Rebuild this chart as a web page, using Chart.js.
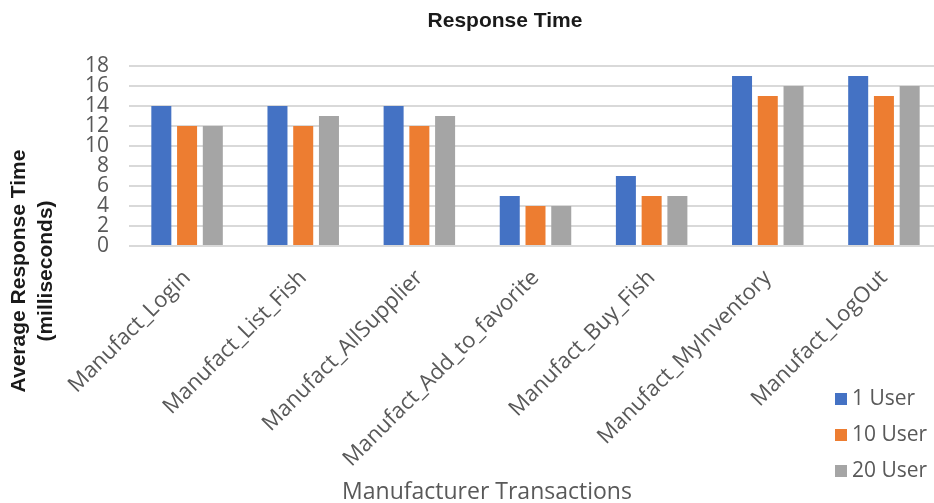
<!DOCTYPE html>
<html>
<head>
<meta charset="utf-8">
<title>Response Time</title>
<script src="https://cdn.jsdelivr.net/npm/chart.js@4.4.1/dist/chart.umd.min.js"></script>
<style>
  html, body { margin: 0; padding: 0; background: #ffffff; overflow: hidden; }
  #wrap { position: relative; width: 942px; height: 503px; }
</style>
</head>
<body>
<div id="wrap"><canvas id="c" width="942" height="503"></canvas></div>
<script>
// Transactions measured, and average response time (ms) for each load level
const categories = [
  'Manufact_Login',
  'Manufact_List_Fish',
  'Manufact_AllSupplier',
  'Manufact_Add_to_favorite',
  'Manufact_Buy_Fish',
  'Manufact_MyInventory',
  'Manufact_LogOut'
];
const seriesNames = ['1 User', '10 User', '20 User'];
const oneUser     = [14, 14, 14, 5, 7, 17, 17];
const tenUsers    = [12, 12, 12, 4, 5, 15, 15];
const twentyUsers = [12, 13, 13, 4, 5, 16, 16];
const yTicks = [0, 2, 4, 6, 8, 10, 12, 14, 16, 18];

const chartTitle = 'Response Time';
const yTitleLines = ['Average Response Time', '(milliseconds)'];
const xTitle = 'Manufacturer Transactions';

const seriesColors = ['#4472C4', '#ED7D31', '#A5A5A5'];
const textGray = '#595959';
const xTickFont = { family: 'Open Sans', size: 22 };
const yTickFont = { family: 'Open Sans', size: 21 };

// Title, axis titles and the legend box are painted after the chart itself
const decorations = {
  id: 'decorations',
  afterDraw(chart) {
    const ctx = chart.ctx;
    ctx.save();

    // chart title
    ctx.fillStyle = '#1a1a1a';
    ctx.font = 'bold 21px "Liberation Sans", Arial, sans-serif';
    ctx.textAlign = 'center';
    ctx.textBaseline = 'alphabetic';
    ctx.fillText(chartTitle, 505, 27);

    // y axis title, two rotated lines
    ctx.save();
    ctx.translate(0, 271);
    ctx.rotate(-Math.PI / 2);
    ctx.textBaseline = 'middle';
    ctx.fillText(yTitleLines[0], 0, 19);
    ctx.fillText(yTitleLines[1], 0, 46);
    ctx.restore();

    // x axis title
    ctx.fillStyle = textGray;
    ctx.font = '23px "Open Sans", sans-serif';
    ctx.textAlign = 'center';
    ctx.textBaseline = 'alphabetic';
    ctx.fillText(xTitle, 487, 499);

    // legend
    ctx.font = '21px "Open Sans", sans-serif';
    ctx.textAlign = 'left';
    ctx.textBaseline = 'middle';
    chart.data.datasets.forEach((ds, i) => {
      const cy = 399 + i * 36;
      ctx.fillStyle = ds.backgroundColor;
      ctx.fillRect(835, cy - 6, 12, 12);
      ctx.fillStyle = textGray;
      ctx.fillText(ds.label, 852, cy);
    });

    ctx.restore();
  }
};

const seriesValues = [oneUser, tenUsers, twentyUsers];

new Chart(document.getElementById('c'), {
  type: 'bar',
  data: {
    labels: categories,
    datasets: seriesNames.map((name, i) => ({
      label: name,
      data: seriesValues[i],
      backgroundColor: seriesColors[i],
      borderWidth: 0,
      categoryPercentage: 0.665,
      barPercentage: 0.777
    }))
  },
  options: {
    responsive: false,
    animation: false,
    devicePixelRatio: 1,
    layout: { padding: { top: 66, right: 0, bottom: 0, left: 0 } },
    plugins: {
      legend: { display: false },
      title: { display: false },
      tooltip: { enabled: false }
    },
    scales: {
      x: {
        grid: { display: false },
        border: { display: false },
        ticks: {
          font: xTickFont,
          color: textGray,
          minRotation: 45,
          maxRotation: 45,
          autoSkip: false,
          padding: 11
        },
        afterFit(scale) { scale.height = 257; }
      },
      y: {
        min: 0,
        max: 18,
        afterBuildTicks(scale) { scale.ticks = yTicks.map(v => ({ value: v })); },
        ticks: { font: yTickFont, color: textGray, padding: 20, autoSkip: false },
        grid: { color: '#d9d9d9', lineWidth: 2, drawTicks: false },
        border: { display: false },
        afterFit(scale) { scale.width = 129; }
      }
    }
  },
  plugins: [decorations]
});
</script>
</body>
</html>
